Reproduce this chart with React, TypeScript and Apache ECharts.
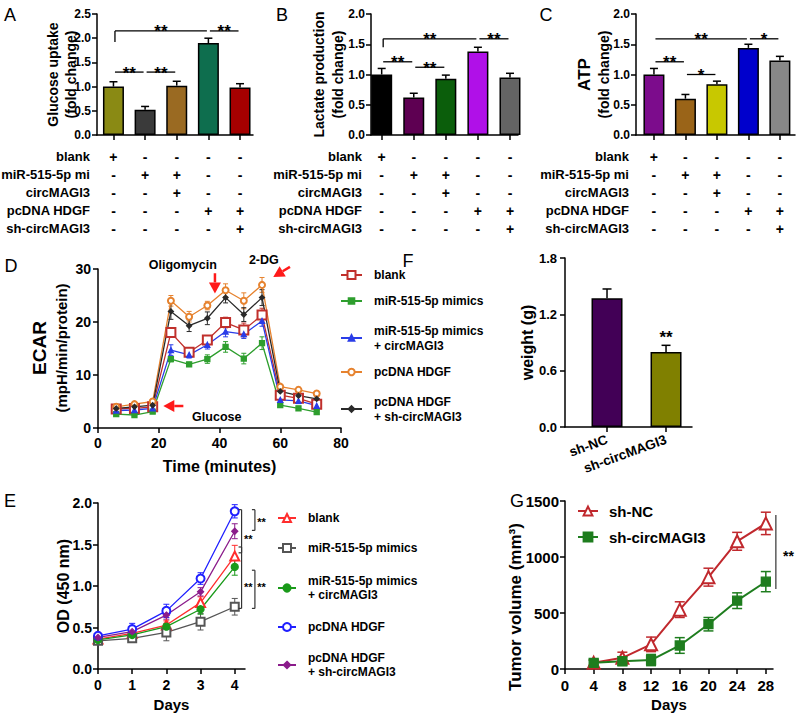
import React, { useEffect, useRef } from 'react';
import * as echarts from 'echarts';

const FONT = '"Liberation Sans", Arial, Helvetica, sans-serif';

// ================= Panels A–C (bar charts with treatment table) =================
const barPositions = [0, 1, 2, 3, 4];
const tableRowLabels = ['blank', 'miR-515-5p mi', 'circMAGI3', 'pcDNA HDGF', 'sh-circMAGI3'];
const tableRowMarks = [
  ['+', '-', '-', '-', '-'],
  ['-', '+', '+', '-', '-'],
  ['-', '-', '+', '-', '-'],
  ['-', '-', '-', '+', '+'],
  ['-', '-', '-', '-', '+'],
];

const glucoseUptake = [1.0, 0.52, 1.02, 1.9, 0.98];
const glucoseUptakeSD = [0.1, 0.07, 0.09, 0.1, 0.08];
const glucoseColors = ['#8a8a14', '#3a3a3a', '#9a6a22', '#0e6e4e', '#a50000'];
// [fromBar, toBar, y, dropTo, label]
const glucoseSig: any[] = [
  [0, 1, 1.3, null, '**'],
  [1, 2, 1.3, null, '**'],
  [0, 3, 2.15, 1.92, '**'],
  [3, 4, 2.15, null, '**'],
];

const lactateProduction = [1.0, 0.62, 0.93, 1.38, 0.95];
const lactateProductionSD = [0.1, 0.07, 0.06, 0.07, 0.07];
const lactateColors = ['#000000', '#5e0052', '#0b5e0b', '#b010e8', '#646464'];
const lactateSig: any[] = [
  [0, 1, 1.21, null, '**'],
  [1, 2, 1.12, null, '**'],
  [0, 3, 1.59, 1.45, '**'],
  [3, 4, 1.59, null, '**'],
];

const atpLevel = [1.0, 0.6, 0.84, 1.44, 1.23];
const atpLevelSD = [0.1, 0.07, 0.05, 0.06, 0.07];
const atpColors = ['#7c0c8c', '#9a6418', '#c8c800', '#0000cc', '#888888'];
const atpSig: any[] = [
  [0, 1, 1.21, null, '**'],
  [1, 2, 1.0, null, '*'],
  [0, 3, 1.59, null, '**'],
  [3, 4, 1.59, null, '*'],
];

// ================= Panel D (ECAR) =================
const ecarTime = [6, 12, 18, 24, 30, 36, 42, 48, 54, 60, 66, 72];
const ecarBlank = [3.6, 3.7, 4.0, 18.0, 14.3, 16.6, 19.9, 18.5, 21.3, 6.2, 5.6, 4.5];
const ecarBlankSD = [0.4, 0.4, 0.4, 0.7, 0.8, 0.7, 1.0, 1.3, 1.3, 0.5, 0.5, 0.5];
const ecarMimics = [2.6, 2.45, 3.1, 13.0, 12.0, 13.0, 15.3, 13.1, 16.0, 4.3, 3.7, 3.0];
const ecarMimicsSD = [0.3, 0.3, 0.3, 0.5, 0.4, 0.8, 1.0, 1.0, 1.2, 0.4, 0.4, 0.4];
const ecarMimicsCirc = [3.3, 3.4, 3.7, 14.7, 13.8, 15.7, 18.2, 17.7, 20.2, 5.3, 5.1, 4.2];
const ecarMimicsCircSD = [0.3, 0.3, 0.3, 1.0, 0.6, 0.8, 1.0, 0.8, 1.0, 0.5, 0.5, 0.4];
const ecarHDGF = [4.0, 4.5, 5.0, 24.0, 21.0, 23.1, 26.0, 24.0, 27.0, 7.8, 7.2, 6.5];
const ecarHDGFSD = [0.3, 0.3, 0.4, 1.0, 1.0, 0.8, 1.2, 1.5, 1.4, 0.4, 0.5, 0.3];
const ecarHDGFsh = [3.7, 4.0, 4.3, 22.0, 19.3, 20.7, 24.6, 21.4, 24.6, 6.9, 6.1, 5.5];
const ecarHDGFshSD = [0.3, 0.3, 0.4, 1.5, 1.1, 1.2, 1.0, 1.3, 1.5, 0.5, 0.5, 0.5];
// arrows: [tailX, tailY, headX, headY] in axis units
const ecarArrows = [
  [38.5, 29.2, 38.5, 25.4],
  [63.2, 30.4, 57.7, 28.5],
  [28.1, 4.15, 21.5, 4.15],
];
const ecarNotes: any[] = [
  [27.9, 30.75, 'Oligomycin'],
  [54.6, 31.7, '2-DG'],
  [39.1, 2.13, 'Glucose'],
];
const ecarNames = ['blank', 'miR-515-5p mimics', 'miR-515-5p mimics\n+ circMAGI3', 'pcDNA HDGF', 'pcDNA HDGF\n+ sh-circMAGI3'];

// ================= Panel E (CCK-8) =================
const cckDays = [0, 1, 2, 3, 4];
const cckBlank = [0.36, 0.43, 0.53, 0.8, 1.36];
const cckBlankSD = [0.02, 0.04, 0.05, 0.07, 0.13];
const cckMimics = [0.34, 0.37, 0.44, 0.57, 0.75];
const cckMimicsSD = [0.03, 0.04, 0.1, 0.1, 0.1];
const cckMimicsCirc = [0.35, 0.41, 0.51, 0.72, 1.23];
const cckMimicsCircSD = [0.02, 0.03, 0.04, 0.06, 0.1];
const cckHDGF = [0.4, 0.48, 0.7, 1.09, 1.9];
const cckHDGFSD = [0.02, 0.07, 0.08, 0.07, 0.08];
const cckHDGFsh = [0.38, 0.45, 0.65, 0.93, 1.66];
const cckHDGFshSD = [0.02, 0.04, 0.05, 0.05, 0.09];
// trailing space keeps E legend entries distinct from D
const cckNames = ['blank ', 'miR-515-5p mimics ', 'miR-515-5p mimics\n+ circMAGI3 ', 'pcDNA HDGF ', 'pcDNA HDGF\n+ sh-circMAGI3 '];
// [x, yTop, yBottom, label, labelX, labelY]
const cckSig: any[] = [
  [4.59, 1.92, 1.67, '**', 4.66, 1.8],
  [4.2, 1.92, 1.4, '**', 4.27, 1.6],
  [4.2, 1.47, 0.73, '**', 4.27, 1.02],
  [4.59, 1.19, 0.73, '**', 4.66, 1.02],
];

// ================= Panel F (tumor weight) =================
const weightGroups = ['sh-NC', 'sh-circMAGI3'];
const weightPositions = [0, 1];
const weightMean = [1.37, 0.8];
const weightSD = [0.1, 0.07];
const weightColors = ['#420056', '#808000'];
const weightSig: any[] = [[1, 1, 0.96, null, '**']];

// ================= Panel G (tumor volume) =================
const tumorDays = [4, 8, 12, 16, 20, 24, 28];
const tumorShNC = [55, 100, 220, 530, 820, 1140, 1300];
const tumorShNCSD = [25, 50, 65, 70, 80, 80, 100];
const tumorShCirc = [55, 70, 80, 210, 400, 610, 780];
const tumorShCircSD = [25, 40, 50, 70, 60, 70, 90];
const tumorSig: any[] = [[29.4, 1375, 714, '**', 30.4, 1036]];

// ---------------- helpers ----------------
const txt = (size: number, extra: any = {}) => ({
  fontFamily: FONT, fontWeight: 'bold', fontSize: size, color: '#000', ...extra,
});
const AXIS_LINE = { show: true, onZero: false, lineStyle: { color: '#000', width: 1.5 } };
const AXIS_TICK = { show: true, inside: false, length: 5, lineStyle: { color: '#000', width: 1.5 } };
const TABLE_ROW_OFFSETS = [21.5, 39.5, 57.5, 75.5, 93.5];
const TABLE_TOP = 135;

function errorBars(xi: number, yi: number, xs: number[], means: number[], sds: number[], color: string, cap: number, both: boolean, lw: number, z: number) {
  return {
    type: 'custom', xAxisIndex: xi, yAxisIndex: yi, silent: true, z,
    data: xs.map((x, i) => [x, both ? means[i] - sds[i] : means[i], means[i] + sds[i]]),
    encode: { x: 0, y: [1, 2] },
    renderItem: (_p: any, api: any) => {
      const x = api.value(0);
      const lo = api.coord([x, api.value(1)]);
      const hi = api.coord([x, api.value(2)]);
      const style = { stroke: color, lineWidth: lw, fill: 'none' };
      const children: any[] = [
        { type: 'line', shape: { x1: hi[0], y1: hi[1], x2: lo[0], y2: lo[1] }, style },
        { type: 'line', shape: { x1: hi[0] - cap, y1: hi[1], x2: hi[0] + cap, y2: hi[1] }, style },
      ];
      if (both) children.push({ type: 'line', shape: { x1: lo[0] - cap, y1: lo[1], x2: lo[0] + cap, y2: lo[1] }, style });
      return { type: 'group', children };
    },
  };
}

function sigSeries(xi: number, yi: number, items: any[], fontSize: number) {
  return {
    type: 'custom', xAxisIndex: xi, yAxisIndex: yi, silent: true, z: 6,
    data: items.map((it) => [it[0], it[1], it[2]]),
    encode: { x: [0, 1], y: 2 },
    renderItem: (params: any, api: any) => {
      const it = items[params.dataIndex];
      const a = api.coord([it[0], it[2]]);
      const b = api.coord([it[1], it[2]]);
      const st = { stroke: '#000', lineWidth: 1.3, fill: 'none' };
      const ch: any[] = [];
      if (it[0] !== it[1]) {
        ch.push({ type: 'line', shape: { x1: a[0] + 1.5, y1: a[1], x2: b[0] - 1.5, y2: b[1] }, style: st });
        if (it[3] != null) {
          const d = api.coord([it[0], it[3]]);
          ch.push({ type: 'line', shape: { x1: a[0] + 1.5, y1: a[1], x2: a[0] + 1.5, y2: d[1] }, style: st });
        }
      }
      ch.push({
        type: 'text', x: (a[0] + b[0]) / 2, y: a[1] + 1,
        style: { text: it[4], fill: '#000', fontFamily: FONT, fontWeight: 'bold', fontSize, align: 'center', verticalAlign: 'middle' },
      });
      return { type: 'group', children: ch };
    },
  };
}

function vBracketSeries(xi: number, yi: number, items: any[], fontSize: number, tick: number) {
  return {
    type: 'custom', xAxisIndex: xi, yAxisIndex: yi, silent: true, z: 6,
    data: items.map((it) => [it[0], it[1], it[2]]),
    encode: { x: 0, y: [1, 2] },
    renderItem: (params: any, api: any) => {
      const it = items[params.dataIndex];
      const t = api.coord([it[0], it[1]]);
      const b = api.coord([it[0], it[2]]);
      const lp = api.coord([it[4], it[5]]);
      const st = { stroke: '#333', lineWidth: 1.2, fill: 'none' };
      const ch: any[] = [{ type: 'line', shape: { x1: t[0], y1: t[1], x2: b[0], y2: b[1] }, style: st }];
      if (tick > 0) {
        ch.push({ type: 'line', shape: { x1: t[0] - tick, y1: t[1], x2: t[0], y2: t[1] }, style: st });
        ch.push({ type: 'line', shape: { x1: b[0] - tick, y1: b[1], x2: b[0], y2: b[1] }, style: st });
      }
      ch.push({
        type: 'text', x: lp[0], y: lp[1] + fontSize * 0.23,
        style: { text: it[3], fill: '#000', fontFamily: FONT, fontWeight: 'bold', fontSize, align: 'left', verticalAlign: 'middle' },
      });
      return { type: 'group', children: ch };
    },
  };
}

function lineSeries(name: string, xi: number, yi: number, xs: number[], ys: number[], color: string, symbol: string, size: number, lw: number) {
  return {
    type: 'line', name, xAxisIndex: xi, yAxisIndex: yi, silent: true, z: 4,
    data: xs.map((x, i) => [x, ys[i]]),
    symbol, symbolSize: size, showSymbol: true,
    lineStyle: { color, width: lw },
    itemStyle: { color, borderColor: color, borderWidth: 1.3 },
    emphasis: { disabled: true },
  };
}

function buildOption() {
  const grid: any[] = [];
  const xAxis: any[] = [];
  const yAxis: any[] = [];
  const series: any[] = [];
  const legend: any[] = [];
  const graphic: any[] = [];

  const addBarPanel = (p: any) => {
    const g = grid.length;
    grid.push({ left: p.left, top: 14, width: p.width, height: 121 });
    const yi = yAxis.length;
    yAxis.push({
      gridIndex: g, type: 'value', min: 0, max: p.yMax, interval: 0.5,
      axisLine: AXIS_LINE, axisTick: AXIS_TICK, splitLine: { show: false },
      axisLabel: { ...txt(12), margin: 6, formatter: (v: number) => v.toFixed(1) },
      name: p.yName, nameLocation: 'middle', nameRotate: 90, nameGap: p.nameGap, nameTextStyle: p.nameStyle,
      nameMoveOverlap: false,
    });
    const xi = xAxis.length;
    xAxis.push({
      gridIndex: g, type: 'value', min: p.xMin, max: p.xMax, position: 'bottom',
      axisLine: AXIS_LINE, axisTick: { ...AXIS_TICK, customValues: barPositions },
      axisLabel: { show: false }, splitLine: { show: false },
    });
    tableRowLabels.forEach((lab, r) => {
      xAxis.push({
        gridIndex: g, type: 'value', min: p.xMin, max: p.xMax, position: 'bottom', offset: TABLE_ROW_OFFSETS[r],
        axisLine: { show: false }, axisTick: { show: false }, splitLine: { show: false },
        axisLabel: {
          ...txt(14), customValues: barPositions, margin: 0, verticalAlign: 'middle',
          formatter: (v: number) => tableRowMarks[r][Math.round(v)],
        },
      });
      graphic.push({
        type: 'text', x: p.left - p.rowGap, y: TABLE_TOP + TABLE_ROW_OFFSETS[r],
        style: { text: lab, fill: '#000', fontFamily: FONT, fontWeight: 'bold', fontSize: 13, align: 'right', verticalAlign: 'middle' },
      });
    });
    series.push({
      type: 'bar', xAxisIndex: xi, yAxisIndex: yi, barWidth: 21, silent: true, z: 2,
      data: barPositions.map((x, i) => ({ value: [x, p.means[i]], itemStyle: { color: p.colors[i] } })),
      itemStyle: { borderColor: '#000', borderWidth: 1.5 },
    });
    series.push(errorBars(xi, yi, barPositions, p.means, p.sds, '#000', 4, false, 1.5, 3));
    series.push(sigSeries(xi, yi, p.sig, 17));
  };

  addBarPanel({
    left: 97, width: 156, xMin: -0.52, xMax: 4.41, yMax: 2.5,
    means: glucoseUptake, sds: glucoseUptakeSD, colors: glucoseColors, sig: glucoseSig,
    yName: 'Glucose uptake\n(fold change)', nameGap: 17, rowGap: 7,
    nameStyle: txt(14, { lineHeight: 18 }),
  });
  addBarPanel({
    left: 371, width: 147, xMin: -0.333, xMax: 4.25, yMax: 2.0,
    means: lactateProduction, sds: lactateProductionSD, colors: lactateColors, sig: lactateSig,
    yName: 'Lactate production\n(fold change)', nameGap: 24, rowGap: 9,
    nameStyle: txt(14, { lineHeight: 19 }),
  });
  addBarPanel({
    left: 636, width: 159, xMin: -0.57, xMax: 4.48, yMax: 2.0,
    means: atpLevel, sds: atpLevelSD, colors: atpColors, sig: atpSig,
    yName: '{a|ATP}\n{b|(fold change)}', nameGap: 23, rowGap: 7,
    nameStyle: {
      rich: {
        a: txt(17, { lineHeight: 21 }),
        b: txt(14, { lineHeight: 18 }),
      },
    },
  });

  // ---------- D ----------
  {
    const g = grid.length;
    grid.push({ left: 98, top: 269, width: 243, height: 159 });
    const xi = xAxis.length;
    xAxis.push({
      gridIndex: g, type: 'value', min: 0, max: 80, interval: 20,
      axisLine: AXIS_LINE, axisTick: AXIS_TICK, splitLine: { show: false },
      axisLabel: { ...txt(14), margin: 8 },
      name: 'Time (minutes)', nameLocation: 'middle', nameGap: 30, nameTextStyle: txt(16),
      nameMoveOverlap: false,
    });
    const yi = yAxis.length;
    yAxis.push({
      gridIndex: g, type: 'value', min: 0, max: 30, interval: 10, position: 'left',
      axisLine: AXIS_LINE, axisTick: AXIS_TICK, splitLine: { show: false },
      axisLabel: { ...txt(14), margin: 7 },
    });
    // two-line axis title (different sizes), placed beside the axis
    graphic.push({
      type: 'text', x: 39, y: 348, rotation: Math.PI / 2,
      style: { text: 'ECAR', fill: '#000', fontFamily: FONT, fontWeight: 'bold', fontSize: 19, align: 'center', verticalAlign: 'middle' },
    });
    graphic.push({
      type: 'text', x: 61, y: 348, rotation: Math.PI / 2,
      style: { text: '(mpH/min/protein)', fill: '#000', fontFamily: FONT, fontWeight: 'bold', fontSize: 15, align: 'center', verticalAlign: 'middle' },
    });
    const defs = [
      [ecarBlank, ecarBlankSD, '#c0302c', 'emptyRect', 9, 10],
      [ecarMimics, ecarMimicsSD, '#2e9e2e', 'rect', 5, 7],
      [ecarMimicsCirc, ecarMimicsCircSD, '#2a3de8', 'triangle', 5, 7],
      [ecarHDGF, ecarHDGFSD, '#e6822e', 'emptyCircle', 6, 8],
      [ecarHDGFsh, ecarHDGFshSD, '#2a2a2a', 'diamond', 5, 7],
    ] as any[];
    const centers = [275, 301, 338, 372, 409];
    defs.forEach((d, k) => {
      series.push(errorBars(xi, yi, ecarTime, d[0], d[1], d[2], 2.5, true, 1, 3));
      series.push(lineSeries(ecarNames[k], xi, yi, ecarTime, d[0], d[2], d[3], d[4], 1.3));
      const lines = ecarNames[k].split('\n').length;
      legend.push({
        data: [ecarNames[k]], left: 340, top: centers[k] - lines * 7.5, orient: 'vertical', padding: 0,
        itemWidth: 21, itemHeight: d[5], selectedMode: false,
        textStyle: txt(12, { lineHeight: 15, padding: [0, 0, 0, 7] }),
      });
    });
    series.push({
      type: 'custom', xAxisIndex: xi, yAxisIndex: yi, silent: true, z: 7,
      data: ecarArrows.map((a) => [a[2], a[3]]),
      encode: { x: 0, y: 1 },
      renderItem: (params: any, api: any) => {
        const a = ecarArrows[params.dataIndex];
        const t = api.coord([a[0], a[1]]);
        const h = api.coord([a[2], a[3]]);
        const dx = h[0] - t[0], dy = h[1] - t[1];
        const len = Math.sqrt(dx * dx + dy * dy);
        const ux = dx / len, uy = dy / len;
        const hl = 11, hw = 6;
        const bx = h[0] - ux * hl, by = h[1] - uy * hl;
        return {
          type: 'group',
          children: [
            { type: 'line', shape: { x1: t[0], y1: t[1], x2: bx, y2: by }, style: { stroke: '#ff1a1a', lineWidth: 2.5 } },
            {
              type: 'polygon',
              shape: { points: [[h[0], h[1]], [bx - uy * hw, by + ux * hw], [bx + uy * hw, by - ux * hw]] },
              style: { fill: '#ff1a1a' },
            },
          ],
        };
      },
    });
    series.push({
      type: 'custom', xAxisIndex: xi, yAxisIndex: yi, silent: true, z: 7,
      data: ecarNotes.map((n) => [n[0], n[1]]),
      encode: { x: 0, y: 1 },
      renderItem: (params: any, api: any) => {
        const n = ecarNotes[params.dataIndex];
        const p = api.coord([n[0], n[1]]);
        return {
          type: 'text', x: p[0], y: p[1],
          style: { text: n[2], fill: '#000', fontFamily: FONT, fontWeight: 'bold', fontSize: 12.5, align: 'center', verticalAlign: 'middle' },
        };
      },
    });
  }

  // ---------- E ----------
  {
    const g = grid.length;
    grid.push({ left: 98, top: 503, width: 147, height: 166 });
    const xi = xAxis.length;
    xAxis.push({
      gridIndex: g, type: 'value', min: 0, max: 4.3,
      axisLine: AXIS_LINE, axisTick: { ...AXIS_TICK, customValues: cckDays }, splitLine: { show: false },
      axisLabel: { ...txt(14), margin: 9, customValues: cckDays },
      name: 'Days', nameLocation: 'middle', nameGap: 28, nameTextStyle: txt(15),
      nameMoveOverlap: false,
    });
    const yi = yAxis.length;
    yAxis.push({
      gridIndex: g, type: 'value', min: 0, max: 2, interval: 0.5,
      axisLine: AXIS_LINE, axisTick: AXIS_TICK, splitLine: { show: false },
      axisLabel: { ...txt(14), margin: 6, formatter: (v: number) => v.toFixed(1) },
      name: 'OD (450 nm)', nameLocation: 'middle', nameRotate: 90, nameGap: 27, nameTextStyle: txt(16),
      nameMoveOverlap: false,
    });
    const defs = [
      [cckBlank, cckBlankSD, '#ff2d2d', 'emptyTriangle', 9, 10],
      [cckMimics, cckMimicsSD, '#555555', 'emptyRect', 8, 10],
      [cckMimicsCirc, cckMimicsCircSD, '#1a9a1a', 'circle', 7, 9],
      [cckHDGF, cckHDGFSD, '#2020ff', 'emptyCircle', 8, 10],
      [cckHDGFsh, cckHDGFshSD, '#8b1c8b', 'diamond', 6, 8],
    ] as any[];
    const centers = [518, 548, 588, 627, 665];
    defs.forEach((d, k) => {
      series.push(errorBars(xi, yi, cckDays, d[0], d[1], d[2], 3, true, 1, 3));
      series.push(lineSeries(cckNames[k], xi, yi, cckDays, d[0], d[2], d[3], d[4], 1.3));
      const lines = cckNames[k].split('\n').length;
      legend.push({
        data: [cckNames[k]], left: 277, top: centers[k] - lines * 7, orient: 'vertical', padding: 0,
        itemWidth: 18, itemHeight: d[5], selectedMode: false,
        textStyle: txt(12, { lineHeight: 14, padding: [0, 0, 0, 7] }),
      });
    });
    series.push(vBracketSeries(xi, yi, cckSig, 11, 3));
  }

  // ---------- F ----------
  {
    const g = grid.length;
    grid.push({ left: 565, top: 258, width: 127, height: 169 });
    const xi = xAxis.length;
    xAxis.push({
      gridIndex: g, type: 'value', min: -0.712, max: 1.44,
      axisLine: AXIS_LINE, axisTick: { ...AXIS_TICK, customValues: weightPositions }, splitLine: { show: false },
      axisLabel: {
        ...txt(13.5), margin: 12, rotate: 20, customValues: weightPositions,
        formatter: (v: number) => weightGroups[Math.round(v)],
      },
    });
    const yi = yAxis.length;
    yAxis.push({
      gridIndex: g, type: 'value', min: 0, max: 1.8, interval: 0.6,
      axisLine: AXIS_LINE, axisTick: AXIS_TICK, splitLine: { show: false },
      axisLabel: { ...txt(13), margin: 8, formatter: (v: number) => v.toFixed(1) },
      name: 'weight (g)', nameLocation: 'middle', nameRotate: 90, nameGap: 30, nameTextStyle: txt(16),
      nameMoveOverlap: false,
    });
    series.push({
      type: 'bar', xAxisIndex: xi, yAxisIndex: yi, barWidth: 31, silent: true, z: 2,
      data: weightPositions.map((x, i) => ({ value: [x, weightMean[i]], itemStyle: { color: weightColors[i] } })),
      itemStyle: { borderColor: '#000', borderWidth: 1.5 },
    });
    series.push(errorBars(xi, yi, weightPositions, weightMean, weightSD, '#000', 4.5, false, 1.5, 3));
    series.push(sigSeries(xi, yi, weightSig, 17));
  }

  // ---------- G ----------
  {
    const g = grid.length;
    grid.push({ left: 565, top: 501, width: 208, height: 168 });
    const xi = xAxis.length;
    const gTicks = [0, 4, 8, 12, 16, 20, 24, 28];
    xAxis.push({
      gridIndex: g, type: 'value', min: 0, max: 29,
      axisLine: AXIS_LINE, axisTick: { ...AXIS_TICK, customValues: gTicks }, splitLine: { show: false },
      axisLabel: { ...txt(15), margin: 9, customValues: gTicks },
      name: 'Days', nameLocation: 'middle', nameGap: 28, nameTextStyle: txt(15),
      nameMoveOverlap: false,
    });
    const yi = yAxis.length;
    yAxis.push({
      gridIndex: g, type: 'value', min: 0, max: 1500, interval: 500,
      axisLine: AXIS_LINE, axisTick: AXIS_TICK, splitLine: { show: false },
      axisLabel: { ...txt(15), margin: 6, formatter: (v: number) => String(v) },
      name: 'Tumor volume (mm³)', nameLocation: 'middle', nameRotate: 90, nameGap: 41,
      nameTextStyle: txt(17, { padding: [0, 44, 0, 0] }),
      nameMoveOverlap: false,
    });
    series.push(errorBars(xi, yi, tumorDays, tumorShNC, tumorShNCSD, '#c0282d', 5, true, 1.5, 3));
    series.push(errorBars(xi, yi, tumorDays, tumorShCirc, tumorShCircSD, '#1e7d1e', 5, true, 1.5, 3));
    series.push(lineSeries('sh-NC', xi, yi, tumorDays, tumorShNC, '#c0282d', 'emptyTriangle', 12, 2));
    series.push(lineSeries('sh-circMAGI3', xi, yi, tumorDays, tumorShCirc, '#1e7d1e', 'rect', 9, 2));
    legend.push({
      data: ['sh-NC', 'sh-circMAGI3'], left: 577, top: 503, orient: 'vertical', padding: 0, itemGap: 10,
      itemWidth: 20, itemHeight: 11, selectedMode: false,
      textStyle: txt(15, { lineHeight: 16, padding: [0, 0, 0, 6] }),
    });
    series.push(vBracketSeries(xi, yi, tumorSig, 14, 0));
  }

  const panelLabel = (t: string, x: number, y: number) => ({
    type: 'text', x, y,
    style: { text: t, fill: '#000', fontFamily: FONT, fontSize: 18, align: 'center', verticalAlign: 'middle' },
  });
  graphic.push(
    panelLabel('A', 10, 15),
    panelLabel('B', 282, 15),
    panelLabel('C', 546, 15),
    panelLabel('D', 11, 266),
    panelLabel('E', 10, 501),
    panelLabel('F', 408, 261),
    panelLabel('G', 517, 501),
  );

  return {
    animation: false,
    backgroundColor: '#fff',
    textStyle: { fontFamily: FONT },
    grid, xAxis, yAxis, series, legend, graphic,
  };
}

export default function App() {
  const ref = useRef<HTMLDivElement>(null);
  useEffect(() => {
    const chart = echarts.init(ref.current!, null, { renderer: 'svg' });
    chart.setOption(buildOption() as any);
    return () => chart.dispose();
  }, []);
  return (
    <div
      ref={ref}
      style={{ position: 'absolute', left: 0, top: 0, width: 800, height: 717, background: '#fff' }}
    />
  );
}
